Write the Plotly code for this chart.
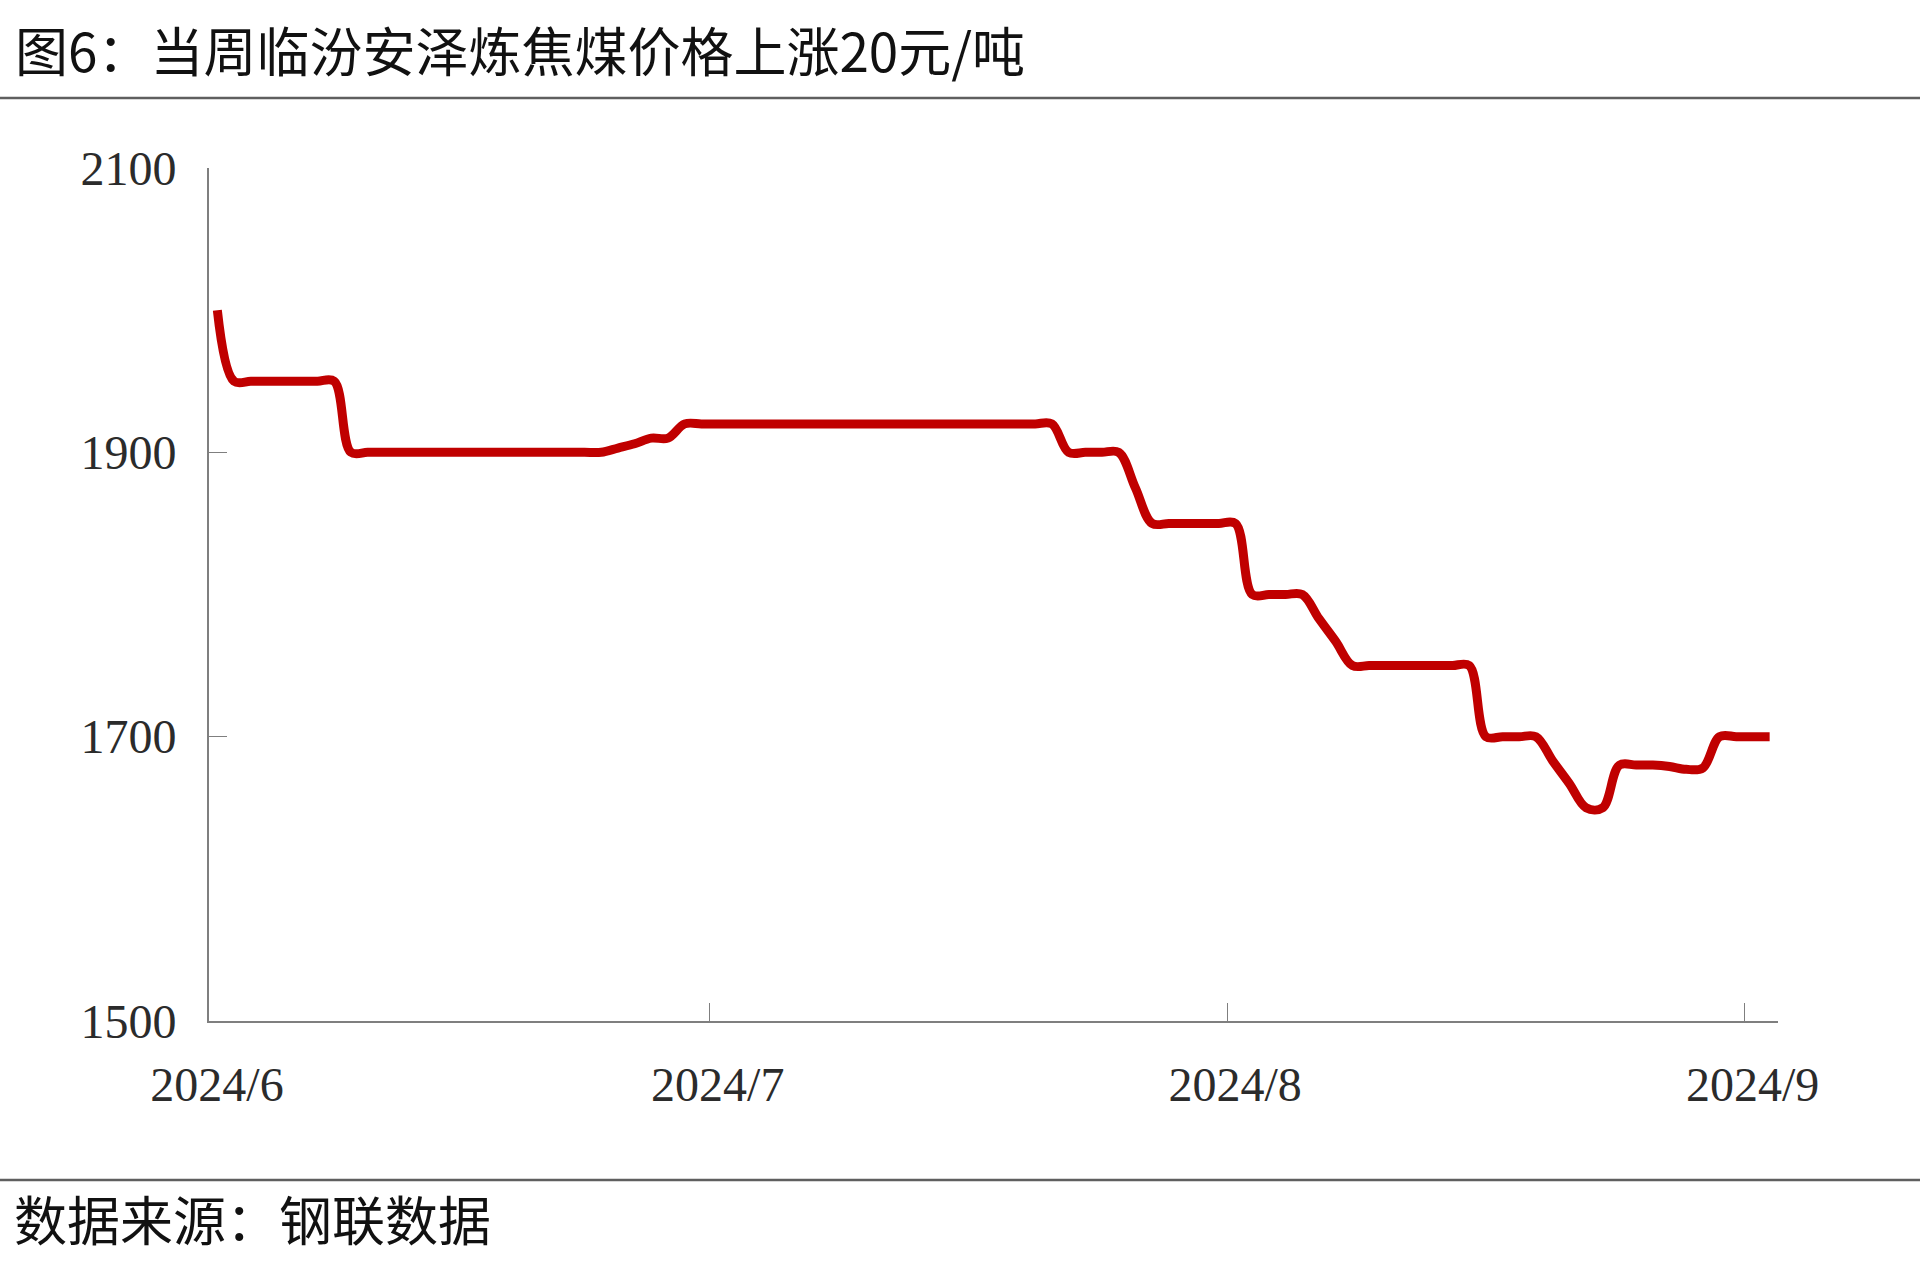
import pandas as pd
import plotly.graph_objects as go

# ---- data (daily, 2024-06-01 .. 2024-09-02), 元/吨 ----
start_date = "2024-06-01"
price = [
    2000,
    1950, 1950, 1950, 1950, 1950, 1950, 1950,
    1900, 1900, 1900, 1900, 1900, 1900, 1900, 1900,
    1900, 1900, 1900, 1900, 1900, 1900, 1900, 1900,
    1903, 1906, 1910, 1910,
    1920, 1920, 1920, 1920, 1920, 1920, 1920, 1920,
    1920, 1920, 1920, 1920, 1920, 1920, 1920, 1920,
    1920, 1920, 1920, 1920, 1920, 1920, 1920,
    1900, 1900, 1900, 1900,
    1875,
    1850, 1850, 1850, 1850, 1850, 1850,
    1800, 1800, 1800, 1800,
    1783, 1767,
    1750, 1750, 1750, 1750, 1750, 1750, 1750, 1750,
    1700, 1700, 1700, 1700,
    1683, 1667, 1650, 1650,
    1680, 1680, 1680, 1679, 1677, 1678,
    1700, 1700, 1700, 1700,
]
tick_dates = ["2024-05-31 12:00", "2024-06-30 12:00", "2024-07-31 12:00", "2024-08-31 12:00"]
tick_labels = ["2024/6", "2024/7", "2024/8", "2024/9"]
y_ticks = [1500, 1700, 1900, 2100]

title_text = "图6：当周临汾安泽炼焦煤价格上涨20元/吨"
source_text = "数据来源：钢联数据"

dates = pd.date_range(start=start_date, periods=len(price), freq="D")

W, H = 1920, 1279
L, R, T, B = 209, 142, 168, 258
pw, ph = W - L - R, H - T - B

def px_x(x):
    return (x - L) / pw

def px_y(y):
    return (H - B - y) / ph

fig = go.Figure()
fig.add_trace(go.Scatter(
    x=dates, y=price, mode="lines",
    line=dict(color="#C00000", width=9, shape="spline", smoothing=1.0),
    hoverinfo="x+y", showlegend=False,
))

axis_font = dict(family="Liberation Serif, Times New Roman, serif", size=48, color="#2b2b2b")
cjk = "Noto Sans CJK SC, Noto Sans, sans-serif"

fig.update_layout(
    width=W, height=H,
    margin=dict(l=L, r=R, t=T, b=B, pad=0),
    paper_bgcolor="white", plot_bgcolor="white",
    title=dict(text=title_text, x=15 / W, xanchor="left", xref="container",
               y=1 - 53 / H, yanchor="middle", yref="container",
               font=dict(family=cjk, size=53, color="#111111")),
    xaxis=dict(
        range=["2024-05-31 12:00", "2024-09-02 12:00"],
        tickmode="array", tickvals=tick_dates, ticktext=tick_labels,
        ticks="inside", ticklen=18, tickwidth=1.3, tickcolor="#7f7f7f",
        showline=True, linecolor="#7f7f7f", linewidth=1.6,
        showgrid=False, zeroline=False,
        tickfont=axis_font, ticklabelshift=8, ticklabelstandoff=21,
    ),
    yaxis=dict(
        range=[1500, 2100], tickmode="array", tickvals=y_ticks,
        ticks="inside", ticklen=18, tickwidth=1.3, tickcolor="#7f7f7f",
        showline=True, linecolor="#7f7f7f", linewidth=1.6,
        showgrid=False, zeroline=False,
        tickfont=axis_font, ticklabelstandoff=21,
    ),
    shapes=[
        dict(type="line", xref="paper", yref="paper",
             x0=px_x(0), x1=px_x(W), y0=px_y(98), y1=px_y(98),
             line=dict(color="#5f5f5f", width=2.5)),
        dict(type="line", xref="paper", yref="paper",
             x0=px_x(0), x1=px_x(W), y0=px_y(1180), y1=px_y(1180),
             line=dict(color="#5f5f5f", width=2.5)),
    ],
    annotations=[
        dict(text=source_text, xref="paper", yref="paper",
             x=px_x(12), y=px_y(1218), xanchor="left", yanchor="middle",
             showarrow=False, font=dict(family=cjk, size=53, color="#111111")),
    ],
)

fig.write_html("out.html", config={"displayModeBar": False},
               post_script="document.body.style.margin='0';document.body.style.overflow='hidden';")
